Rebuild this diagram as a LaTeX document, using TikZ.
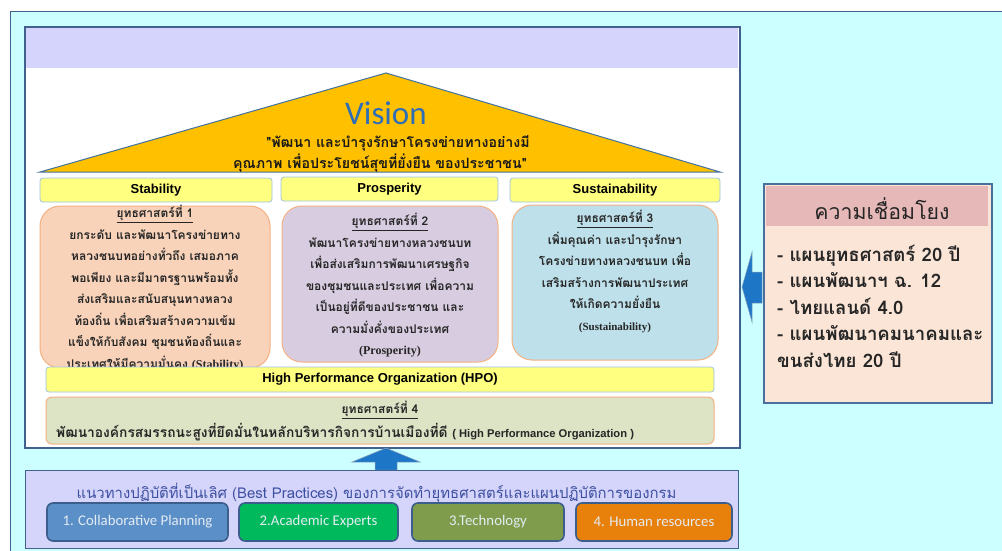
\documentclass[tikz,border=0pt]{standalone}
\usepackage{fontspec}
\setmainfont{Liberation Sans}
\newfontfamily\thai[Script=Thai]{Loma}
\newfontfamily\calib{Carlito}
\newfontfamily\tnr{Liberation Serif}
\definecolor{cyanbg}{HTML}{CCFFFF}
\definecolor{frame}{HTML}{41628F}
\definecolor{lav}{HTML}{D4D4FD}
\definecolor{gold}{HTML}{FFC000}
\definecolor{triborder}{HTML}{41719C}
\definecolor{visionblue}{HTML}{2F6EB5}
\definecolor{lblfill}{HTML}{FFFF80}
\definecolor{lblborder}{HTML}{9DC3E6}
\definecolor{stratborder}{HTML}{F4B183}
\definecolor{sone}{HTML}{F8D3BA}
\definecolor{stwo}{HTML}{D8CCE0}
\definecolor{sthree}{HTML}{BEE0EA}
\definecolor{sfour}{HTML}{DDE3C5}
\definecolor{botfill}{HTML}{D5D5FB}
\definecolor{bottitle}{HTML}{3C4FA0}
\definecolor{bone}{HTML}{5B8FC7}
\definecolor{btwo}{HTML}{00B95C}
\definecolor{bthree}{HTML}{7F9C4D}
\definecolor{bfour}{HTML}{E8810C}
\definecolor{bborder}{HTML}{3C5E8C}
\definecolor{btntext}{HTML}{E4ECF4}
\definecolor{rborder}{HTML}{4A6E9E}
\definecolor{rhdr}{HTML}{E6B9B8}
\definecolor{rbody}{HTML}{FBE5D6}
\definecolor{arrowblue}{HTML}{1E77C6}
\begin{document}
\begin{tikzpicture}[x=1pt,y=-1pt,
  lbl/.style={draw=lblborder, fill=lblfill, rounded corners=3pt, line width=0.8pt, font=\fontsize{13}{15}\selectfont\bfseries},
  strat/.style={draw=stratborder, rounded corners=20pt, line width=1pt},
  btn/.style={draw=bborder, line width=1.6pt, rounded corners=6pt, text=btntext, font=\calib\fontsize{14.8}{17}\selectfont, minimum height=38},
  thaitxt/.style={align=center, text=black!85, font=\thai\bfseries\fontsize{12}{21.5}\selectfont, inner sep=0pt},
  quotetxt/.style={text=black!90, font=\thai\bfseries\fontsize{14.2}{17}\selectfont, inner sep=0},
]
\useasboundingbox (0,0) rectangle (1002,551);
% outer background
\fill[cyanbg] (10,12) rectangle (1002,551);
\draw[frame, line width=1pt] (10,551) -- (10,12) -- (1002,12);
% main panel
\node[draw=frame, fill=white, line width=1.2pt, minimum width=714, minimum height=420, anchor=north west, inner sep=0] (panel) at (25,27) {};
\fill[lav] (25.6,27.6) rectangle (738.4,68);
\draw[frame, line width=1.2pt] (panel.north west) rectangle (panel.south east);
% roof
\draw[fill=gold, draw=triborder, line width=1pt] (40,172) -- (386,73) -- (720,172) -- cycle;
\node[text=visionblue, font=\calib\fontsize{33}{36}\selectfont] (vision) at (386,113) {Vision};
\node[quotetxt] (q1) at (398,143) {"พัฒนา และบำรุงรักษาโครงข่ายทางอย่างมี};
\node[quotetxt] (q2) at (380,163) {คุณภาพ เพื่อประโยชน์สุขที่ยั่งยืน ของประชาชน"};
% pillar labels
\node[lbl, minimum width=232, minimum height=24] (stab) at (156,190) {Stability};
\node[lbl, minimum width=217, minimum height=24] (pros) at (389.5,189) {Prosperity};
\node[lbl, minimum width=210, minimum height=24] (sust) at (615,190) {Sustainability};
% strategy boxes
\node[strat, fill=sone, minimum width=230, minimum height=162] (s1) at (155,287) {};
\node[strat, fill=stwo, minimum width=216, minimum height=156] (s2) at (390,284) {};
\node[strat, fill=sthree, minimum width=206, minimum height=155] (s3) at (615,282.5) {};
\node[thaitxt, anchor=north] (t1) at (155,205) {\underline{ยุทธศาสตร์ที่ 1}\\ยกระดับ และพัฒนาโครงข่ายทาง\\หลวงชนบทอย่างทั่วถึง เสมอภาค\\พอเพียง และมีมาตรฐานพร้อมทั้ง\\ส่งเสริมและสนับสนุนทางหลวง\\ท้องถิ่น เพื่อเสริมสร้างความเข้ม\\แข็งให้กับสังคม ชุมชนท้องถิ่นและ\\ประเทศให้มีความมั่นคง {\tnr\bfseries (Stability)}};
\node[thaitxt, anchor=north] (t2) at (390,213) {\underline{ยุทธศาสตร์ที่ 2}\\พัฒนาโครงข่ายทางหลวงชนบท\\เพื่อส่งเสริมการพัฒนาเศรษฐกิจ\\ของชุมชนและประเทศ เพื่อความ\\เป็นอยู่ที่ดีของประชาชน และ\\ความมั่งคั่งของประเทศ\\{\tnr\bfseries (Prosperity)}};
\node[thaitxt, anchor=north] (t3) at (615,210) {\underline{ยุทธศาสตร์ที่ 3}\\เพิ่มคุณค่า และบำรุงรักษา\\โครงข่ายทางหลวงชนบท เพื่อ\\เสริมสร้างการพัฒนาประเทศ\\ให้เกิดความยั่งยืน\\{\tnr\bfseries\fontsize{11}{13}\selectfont (Sustainability)}};
% HPO bar and strategy 4
\node[lbl, minimum width=668, minimum height=25] (hpo) at (380,379.5) {High Performance Organization (HPO)};
\node[draw=stratborder, fill=sfour, rounded corners=6pt, line width=1pt, minimum width=668, minimum height=47] (s4) at (380,420.5) {};
\node[thaitxt] (t4title) at (380,410) {\underline{ยุทธศาสตร์ที่ 4}};
\node[thaitxt, anchor=west, font=\thai\bfseries\fontsize{13.8}{16}\selectfont] (t4) at (56,432) {พัฒนาองค์กรสมรรถนะสูงที่ยึดมั่นในหลักบริหารกิจการบ้านเมืองที่ดี {\rmfamily\fontsize{11.2}{13}\selectfont ( High Performance Organization )}};
% up arrow
\fill[arrowblue, draw=frame!60, line width=0.5pt] (386,448) -- (420,462) -- (397,462) -- (397,470) -- (375,470) -- (375,462) -- (352,462) -- cycle;
% bottom practices box
\node[draw=frame, fill=botfill, line width=1.2pt, minimum width=713, minimum height=78, anchor=north west, inner sep=0] (bottom) at (25,470) {};
\node[text=bottitle, font=\thai\fontsize{14.9}{17}\selectfont] (btitle) at (376.5,493) {แนวทางปฏิบัติที่เป็นเลิศ (Best Practices) ของการจัดทำยุทธศาสตร์และแผนปฏิบัติการของกรม};
\node[btn, fill=bone, minimum width=181] (b1) at (137.5,522) {1. Collaborative Planning};
\node[btn, fill=btwo, minimum width=159] (b2) at (318.5,522) {2.Academic Experts};
\node[btn, fill=bthree, minimum width=152] (b3) at (488,522) {3.Technology};
\node[btn, fill=bfour, minimum width=156] (b4) at (654,522) {4. Human resources};
% right linkage box
\node[draw=rborder, fill=rbody, line width=1.5pt, minimum width=228, minimum height=219, inner sep=0] (rbox) at (878,293.5) {};
\fill[rhdr] (765.5,186) rectangle (988,226);
\node[font=\thai\fontsize{21.3}{24}\selectfont, text=black!85] (rtitle) at (882,209) {ความเชื่อมโยง};
\node[anchor=west, align=left, font=\thai\bfseries\fontsize{18.6}{26.5}\selectfont, text=black!85, inner sep=0] (rlist) at (777,306) {- แผนยุทธศาสตร์ 20 ปี\\- แผนพัฒนาฯ ฉ. 12\\- ไทยแลนด์ 4.0\\- แผนพัฒนาคมนาคมและ\\ขนส่งไทย 20 ปี};
% left arrow
\fill[arrowblue, draw=frame!60, line width=0.5pt] (742,287) -- (752,252) -- (752,272) -- (762,272) -- (762,303) -- (752,303) -- (752,322) -- cycle;
\end{tikzpicture}
\end{document}
